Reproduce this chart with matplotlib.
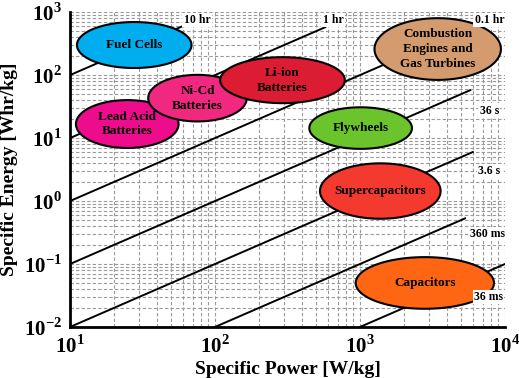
import numpy as np
import matplotlib.pyplot as plt

plt.rcParams['font.family'] = ['Liberation Serif', 'DejaVu Serif']
plt.rcParams['font.weight'] = 'bold'
plt.rcParams['mathtext.fontset'] = 'custom'
plt.rcParams['mathtext.rm'] = 'Liberation Serif:bold'
plt.rcParams['mathtext.bf'] = 'Liberation Serif:bold'

# storage technologies: centre (W/kg, Wh/kg) and half-widths in decades
names = ['Fuel Cells', 'Lead Acid\nBatteries', 'Ni-Cd\nBatteries', 'Li-ion\nBatteries',
         'Combustion\nEngines and\nGas Turbines', 'Flywheels', 'Supercapacitors', 'Capacitors']
power = [27.7, 24.8, 75.7, 292, 3435, 1010, 1380, 2800]
energy = [300, 16.7, 43, 83, 259, 14.4, 1.44, 0.05]
half_w = [0.395, 0.354, 0.34, 0.43, 0.436, 0.354, 0.416, 0.477]
half_h = [0.365, 0.38, 0.37, 0.365, 0.49, 0.33, 0.44, 0.41]
colors = ['#00AEEF', '#EC0C8C', '#F0287F', '#DC1C33', '#D49C6E', '#6CC42C', '#F43A2E', '#FF6614']

# constant discharge-time lines E = P * t (t in hours)
t_hours = [10, 1, 0.1, 0.01, 0.001, 1e-4, 1e-5]
t_labels = ['10 hr', '1 hr', '0.1 hr', '36 s', '3.6 s', '360 ms', '36 ms']
t_end_power = [61, 575, 3000, 5750, 6000, 5300, 10000]

xticks = [10, 100, 1000, 10000]
yticks = [1e-2, 1e-1, 1, 10, 100, 1000]

fig = plt.figure(figsize=(5.19, 3.78), dpi=100)
ax = fig.add_axes([0.135, 0.135, 0.838, 0.833])
ax.set_xscale('log')
ax.set_yscale('log')
ax.set_xlim(10, 1e4)
ax.set_ylim(1e-2, 1e3)

ax.grid(True, which='both', color='#999999', linestyle='--', linewidth=0.8, dashes=(3, 2))
ax.set_axisbelow(True)

for t, end in zip(t_hours, t_end_power):
    p = np.logspace(1, np.log10(end), 50)
    e = p * t
    ax.plot(p, e, color='black', linewidth=1.4, zorder=2)

label_pos = [(75, 750), (650, 750), (7800, 750), (7800, 27), (7800, 3.0), (7600, 0.3), (7700, 0.03)]
for lab, (px, py) in zip(t_labels, label_pos):
    ax.text(px, py, lab, fontsize=8.5, fontweight='bold', ha='center', va='center', zorder=4,
            bbox=dict(facecolor='white', edgecolor='none', pad=1.0))

th = np.linspace(0, 2 * np.pi, 200)
for name, p0, e0, a, b, c in zip(names, power, energy, half_w, half_h, colors):
    xs = 10 ** (np.log10(p0) + a * np.cos(th))
    ys = 10 ** (np.log10(e0) + b * np.sin(th))
    ax.fill(xs, ys, facecolor=c, edgecolor='black', linewidth=1.5, zorder=3)
    ax.text(p0, e0, name, fontsize=9.5, fontweight='bold', ha='center', va='center',
            linespacing=1.3, zorder=5)

ax.set_xticks(xticks)
ax.set_xticklabels(['$10^{%d}$' % int(np.log10(v)) for v in xticks])
ax.set_yticks(yticks)
ax.set_yticklabels(['$10^{%d}$' % int(round(np.log10(v))) for v in yticks])
ax.minorticks_on()
ax.tick_params(axis='both', which='both', length=0, labelsize=15, pad=6)
for s in ['top', 'right']:
    ax.spines[s].set_visible(False)
for s in ['left', 'bottom']:
    ax.spines[s].set_linewidth(2)

ax.set_xlabel('Specific Power [W/kg]', fontsize=14, fontweight='bold', labelpad=2)
ax.set_ylabel('Specific Energy [Whr/kg]', fontsize=14, fontweight='bold', labelpad=4)

fig.savefig('out.png', dpi=100)
